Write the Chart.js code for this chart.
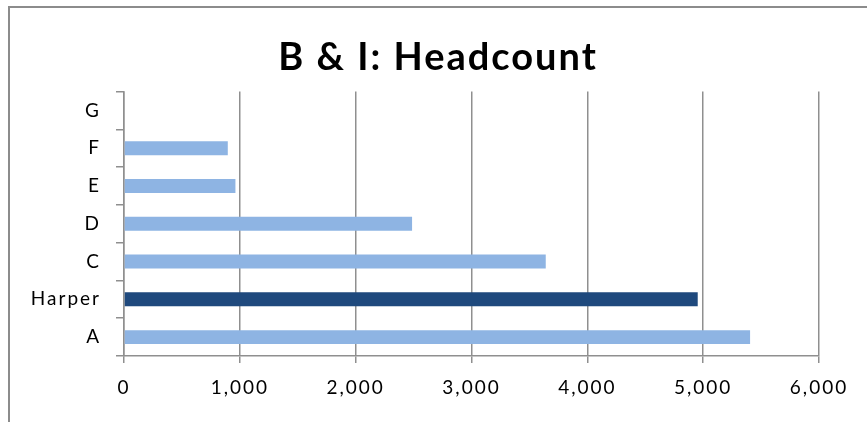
<!DOCTYPE html>
<html>
<head>
<meta charset="utf-8">
<script src="https://cdn.jsdelivr.net/npm/chart.js@4.4.1/dist/chart.umd.min.js"></script>
<style>
  html, body { margin: 0; padding: 0; background: #fff; overflow: hidden; }
  #frame { position: absolute; left: 8px; top: 6px; width: 880px; height: 440px; border: 2px solid #8c8c8c; }
  #chart_barras { position: absolute; left: 0; top: 0; }
</style>
</head>
<body>
<div id="frame"></div>
<canvas id="chart_barras" width="867" height="422"></canvas>
<script>
// categorias de abajo hacia arriba
var categorias = ['A', 'Harper', 'C', 'D', 'E', 'F', 'G'];
var headcount = [5405, 4953, 3641, 2487, 962, 896, 0];
var colores = ['#8EB4E3', '#1F497D', '#8EB4E3', '#8EB4E3', '#8EB4E3', '#8EB4E3', '#8EB4E3'];
var ticksX = [0, 1000, 2000, 3000, 4000, 5000, 6000];

var gris = '#8f8f8f';

// el texto del original va mas espaciado
var espaciado = {
    id: 'espaciado',
    beforeDraw: function(chart) {
        chart.ctx.letterSpacing = '2px';
    }
};

var datos = {
    labels: categorias,
    datasets: [{
        label: 'Headcount',
        data: headcount,
        backgroundColor: colores,
        borderWidth: 0,
        categoryPercentage: 1,
        barPercentage: 0.37
    }]
};

var canvas = document.getElementById('chart_barras').getContext('2d');
window.bar = new Chart(canvas, {
    type: 'bar',
    data: datos,
    plugins: [espaciado],
    options: {
        indexAxis: 'y',
        responsive: false,
        animation: false,
        devicePixelRatio: 1,
        layout: { padding: { left: 9, right: 0, top: 0, bottom: 0 } },
        plugins: {
            legend: { display: false },
            tooltip: { enabled: false },
            title: {
                display: true,
                text: 'B & I: Headcount',
                color: '#000',
                font: { family: 'Lato', size: 38, weight: 'bold', lineHeight: 1.2 },
                padding: { top: 35, bottom: 11 }
            }
        },
        scales: {
            x: {
                min: ticksX[0],
                max: ticksX[ticksX.length - 1],
                afterBuildTicks: function(axis) {
                    axis.ticks = ticksX.map(function(v) { return { value: v }; });
                },
                afterFit: function(axis) { axis.height = 66; },
                grid: { color: gris, lineWidth: 1.5, tickLength: 7, drawTicks: true },
                border: { color: gris, width: 1.5 },
                ticks: {
                    color: '#000',
                    padding: 13,
                    maxRotation: 0,
                    font: { family: 'Lato', size: 19 }
                }
            },
            y: {
                reverse: true,
                afterFit: function(axis) { axis.width = 115; },
                grid: { color: gris, lineWidth: 1.5, tickLength: 8, drawOnChartArea: false, offset: true },
                border: { color: gris, width: 1.5 },
                ticks: {
                    color: '#000',
                    padding: 15,
                    font: { family: 'Lato', size: 19 }
                }
            },
            // margen derecho vacio, asi el titulo queda centrado en el marco
            margen: {
                type: 'linear',
                position: 'right',
                afterFit: function(axis) { axis.width = 48; },
                grid: { display: false },
                border: { display: false },
                ticks: { display: false }
            }
        }
    }
});
</script>
</body>
</html>
